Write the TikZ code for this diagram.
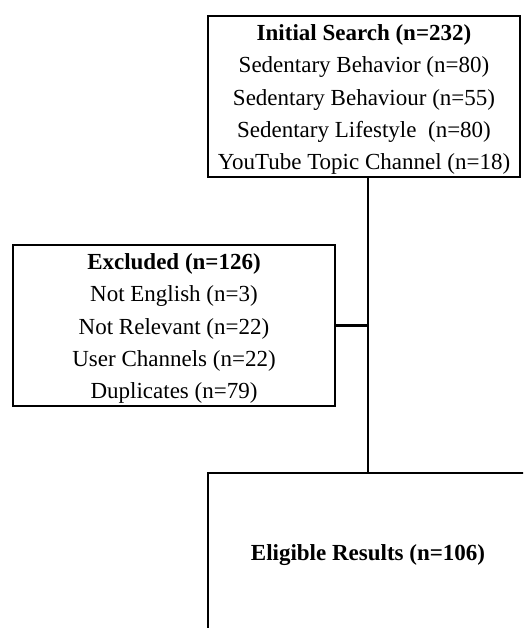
\documentclass[tikz,border=0pt]{standalone}
\usepackage{fontspec}
\setmainfont{Liberation Serif}
\begin{document}
\begin{tikzpicture}[x=1pt,y=-1pt,
  boxstyle/.style={draw=black, line width=2.2pt, rectangle, align=center, inner sep=0pt,
    font=\fontsize{23}{32.3}\selectfont, fill=white},
  linkstyle/.style={draw=black, line width=2.2pt}]
\useasboundingbox (0,0) rectangle (523,628);
\clip (0,0) rectangle (523,628);
\fill[white] (0,0) rectangle (523,628);
\node[boxstyle, minimum width=312pt, minimum height=161pt] (top) at (364,96.5)
  {\raisebox{-3pt}[\height][\depth]{\parbox{312pt}{\centering\textbf{Initial Search (n=232)}\\Sedentary Behavior (n=80)\\Sedentary Behaviour (n=55)\\Sedentary Lifestyle\ \ (n=80)\\YouTube Topic Channel (n=18)}}};
\node[boxstyle, minimum width=322pt, minimum height=161pt] (excl) at (174,325.5)
  {\raisebox{-3pt}[\height][\depth]{\parbox{322pt}{\centering\textbf{Excluded (n=126)}\\Not English (n=3)\\Not Relevant (n=22)\\User Channels (n=22)\\Duplicates (n=79)}}};
\node[boxstyle, minimum width=320pt, minimum height=160pt] (elig) at (368,553)
  {\raisebox{-2pt}[\height][\depth]{\textbf{Eligible Results (n=106)}}};
\coordinate (junc) at (excl.east -| elig.north);
\draw[linkstyle] (elig.north |- top.south) -- (elig.north);
\draw[linkstyle] (excl.east) -- (junc);
\end{tikzpicture}
\end{document}
